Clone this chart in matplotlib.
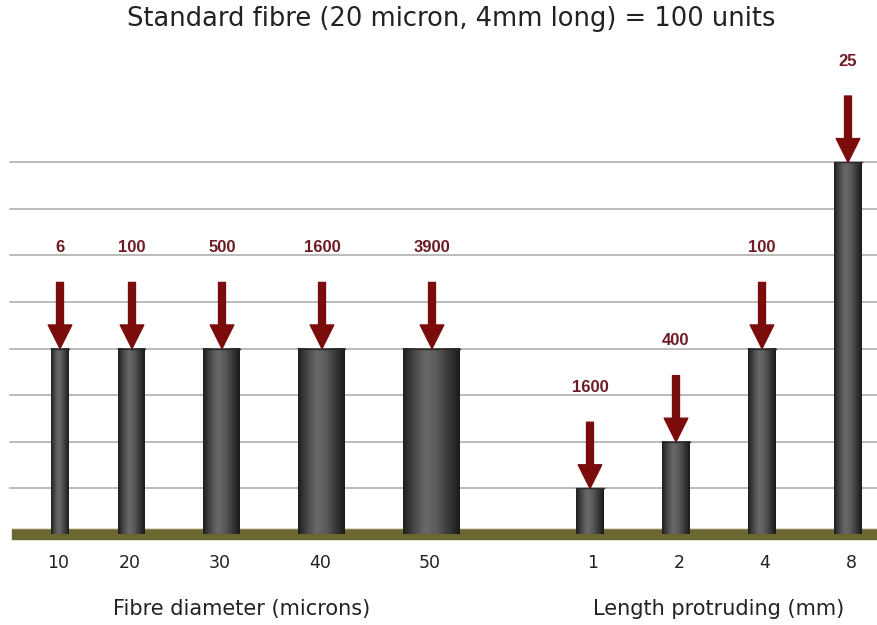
import numpy as np
import matplotlib.pyplot as plt
from matplotlib.colors import LinearSegmentedColormap

# Data
diam_labels = ['10', '20', '30', '40', '50']
diam_heights = [4, 4, 4, 4, 4]
diam_counts = ['6', '100', '500', '1600', '3900']

len_labels = ['1', '2', '4', '8']
len_heights = [1, 2, 4, 8]
len_counts = ['1600', '400', '100', '25']

# layout (pixel-like x units)
diam_x = [60, 132, 222, 322, 432]
diam_w = [18, 27, 37, 47, 57]
len_x = [590, 676, 762, 848]
len_w = [28, 28, 28, 28]

arrow_col = '#7a0c0c'
label_col = '#6e1a22'
text_col = '#222222'
plt.rcParams['font.family'] = ['DejaVu Sans']

fig = plt.figure(figsize=(8.78, 6.25), dpi=100)
ax = fig.add_axes([0, 0, 1, 1])
unit = 46.6
ax.set_xlim(0, 878)
ax.set_ylim(-90 / unit, 535 / unit)
ax.axis('off')

# gridlines
for g in range(1, 9):
    ax.plot([10, 878], [g, g], color='#a8a8a8', lw=1.1, zorder=1)

# ground band
ax.fill_between([12, 878], -0.09, 0.13, color='#6b6730', zorder=2)
ax.plot([12, 878], [0.13, 0.13], color='#8a8650', lw=0.8, zorder=2)

cyl = LinearSegmentedColormap.from_list(
    'cyl', ['#1e1e1e', '#4a4a4a', '#6a6a6a', '#5a5a5a', '#3a3a3a', '#1a1a1a'])
grad = np.linspace(0, 1, 64).reshape(1, -1)


def bar(x, w, h):
    ax.imshow(grad, cmap=cyl, aspect='auto', extent=(x - w / 2, x + w / 2, 0.02, h),
              zorder=3, interpolation='bicubic')
    ax.plot([x - w / 2, x + w / 2], [h, h], color='#2a2a2a', lw=1, zorder=3)


def arrow(x, h, txt):
    ax.annotate('', xy=(x, h), xytext=(x, h + 1.42),
                arrowprops=dict(width=5, headwidth=17, headlength=17,
                                color=arrow_col, shrink=0), zorder=4)
    ax.text(x, h + 2.17, txt, ha='center', va='center', color=label_col,
            fontsize=12, fontweight='bold', family='Liberation Sans', zorder=5)


for x, w, h, c, lab in zip(diam_x, diam_w, diam_heights, diam_counts, diam_labels):
    bar(x, w, h)
    arrow(x, h, c)
    ax.text(x - 2, -28 / unit, lab, ha='center', va='center', fontsize=12.5, color=text_col)

for x, w, h, c, lab in zip(len_x, len_w, len_heights, len_counts, len_labels):
    bar(x, w, h)
    arrow(x, h, c)
    ax.text(x + 3, -28 / unit, lab, ha='center', va='center', fontsize=12.5, color=text_col)

ax.text(242, -74 / unit, 'Fibre diameter (microns)', ha='center', va='center',
        fontsize=15, color=text_col)
ax.text(719, -74 / unit, 'Length protruding (mm)', ha='center', va='center',
        fontsize=15, color=text_col)
ax.text(451, 516 / unit, 'Standard fibre (20 micron, 4mm long) = 100 units',
        ha='center', va='center', fontsize=18.5, color=text_col)

fig.savefig('out.png', dpi=100)
